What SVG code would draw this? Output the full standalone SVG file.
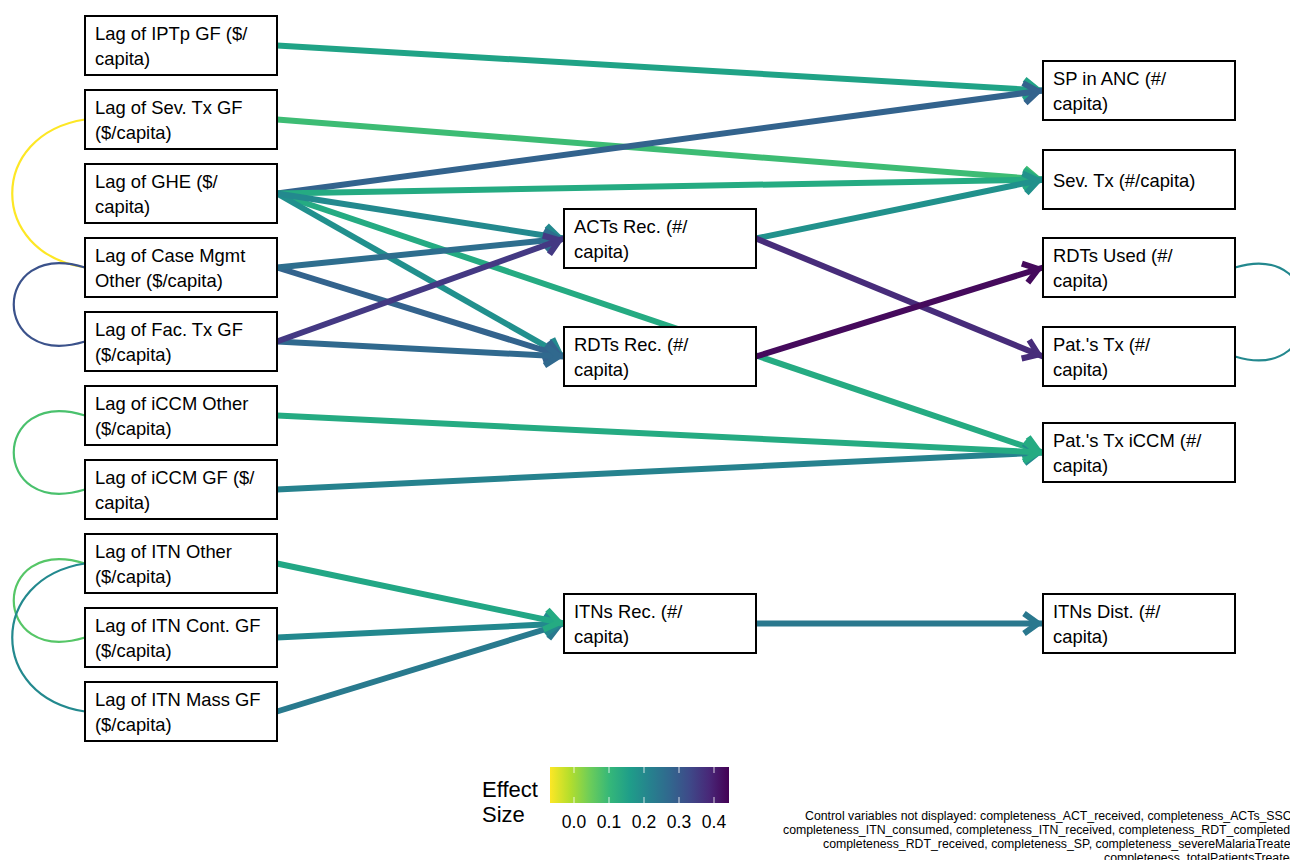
<svg xmlns="http://www.w3.org/2000/svg" width="1290" height="860" viewBox="0 0 1290 860">
<style>
.node rect{fill:#fff;stroke:#000;stroke-width:2}
.node text{font-family:"Liberation Sans",Arial,sans-serif;font-size:18.4px;fill:#000}
.e{fill:none;stroke-width:6;stroke-linecap:butt}
.cov{fill:none;stroke-width:2.2}
.mk{fill:none;stroke-width:6;stroke-linejoin:miter;stroke-miterlimit:10}
.lg{font-family:"Liberation Sans",Arial,sans-serif;fill:#000}
.cap{font-family:"Liberation Sans",Arial,sans-serif;font-size:12.3px;fill:#000}
</style>
<defs>
<linearGradient id="vir" x1="0" y1="0" x2="1" y2="0">
<stop offset="0" stop-color="#FDE725"/>
<stop offset="0.111" stop-color="#B4DE2C"/>
<stop offset="0.222" stop-color="#6DCD59"/>
<stop offset="0.333" stop-color="#35B779"/>
<stop offset="0.444" stop-color="#1F9E89"/>
<stop offset="0.556" stop-color="#26828E"/>
<stop offset="0.667" stop-color="#31688E"/>
<stop offset="0.778" stop-color="#3E4A89"/>
<stop offset="0.889" stop-color="#482878"/>
<stop offset="1" stop-color="#440154"/>
</linearGradient>
<marker id="m1" markerUnits="userSpaceOnUse" viewBox="-30 -20 40 40" markerWidth="40" markerHeight="40" refX="0" refY="0" orient="auto" overflow="visible"><path class="mk" stroke="#20a386" d="M-19,-10 L-5,0 L-19,10"/></marker>
<marker id="m2" markerUnits="userSpaceOnUse" viewBox="-30 -20 40 40" markerWidth="40" markerHeight="40" refX="0" refY="0" orient="auto" overflow="visible"><path class="mk" stroke="#3dbc74" d="M-19,-10 L-5,0 L-19,10"/></marker>
<marker id="m3" markerUnits="userSpaceOnUse" viewBox="-30 -20 40 40" markerWidth="40" markerHeight="40" refX="0" refY="0" orient="auto" overflow="visible"><path class="mk" stroke="#33638d" d="M-19,-10 L-5,0 L-19,10"/></marker>
<marker id="m4" markerUnits="userSpaceOnUse" viewBox="-30 -20 40 40" markerWidth="40" markerHeight="40" refX="0" refY="0" orient="auto" overflow="visible"><path class="mk" stroke="#25ab82" d="M-19,-10 L-5,0 L-19,10"/></marker>
<marker id="m5" markerUnits="userSpaceOnUse" viewBox="-30 -20 40 40" markerWidth="40" markerHeight="40" refX="0" refY="0" orient="auto" overflow="visible"><path class="mk" stroke="#23898e" d="M-19,-10 L-5,0 L-19,10"/></marker>
<marker id="m6" markerUnits="userSpaceOnUse" viewBox="-30 -20 40 40" markerWidth="40" markerHeight="40" refX="0" refY="0" orient="auto" overflow="visible"><path class="mk" stroke="#2e6e8e" d="M-19,-10 L-5,0 L-19,10"/></marker>
<marker id="m7" markerUnits="userSpaceOnUse" viewBox="-30 -20 40 40" markerWidth="40" markerHeight="40" refX="0" refY="0" orient="auto" overflow="visible"><path class="mk" stroke="#443983" d="M-19,-10 L-5,0 L-19,10"/></marker>
<marker id="m8" markerUnits="userSpaceOnUse" viewBox="-30 -20 40 40" markerWidth="40" markerHeight="40" refX="0" refY="0" orient="auto" overflow="visible"><path class="mk" stroke="#21918c" d="M-19,-10 L-5,0 L-19,10"/></marker>
<marker id="m9" markerUnits="userSpaceOnUse" viewBox="-30 -20 40 40" markerWidth="40" markerHeight="40" refX="0" refY="0" orient="auto" overflow="visible"><path class="mk" stroke="#472c7a" d="M-19,-10 L-5,0 L-19,10"/></marker>
<marker id="m10" markerUnits="userSpaceOnUse" viewBox="-30 -20 40 40" markerWidth="40" markerHeight="40" refX="0" refY="0" orient="auto" overflow="visible"><path class="mk" stroke="#450a5c" d="M-19,-10 L-5,0 L-19,10"/></marker>
<marker id="m11" markerUnits="userSpaceOnUse" viewBox="-30 -20 40 40" markerWidth="40" markerHeight="40" refX="0" refY="0" orient="auto" overflow="visible"><path class="mk" stroke="#2a788e" d="M-19,-10 L-5,0 L-19,10"/></marker>
<marker id="m12" markerUnits="userSpaceOnUse" viewBox="-30 -20 40 40" markerWidth="40" markerHeight="40" refX="0" refY="0" orient="auto" overflow="visible"><path class="mk" stroke="#30698e" d="M-19,-10 L-5,0 L-19,10"/></marker>
</defs>
<rect x="0" y="0" width="1290" height="860" fill="#fff"/>
<g id="connectors">
<path class="cov" stroke="#fde725" d="M85,119.5 C-12,134.5 -12,252.5 85,267.5"/>
<path class="cov" stroke="#3b528b" d="M85,267.5 C-10,238.5 -10,370.5 85,341.5"/>
<path class="cov" stroke="#4ac16d" d="M85,415.5 C-10,386.5 -10,518.5 85,489.5"/>
<path class="cov" stroke="#56c667" d="M85,563.5 C-10,534.5 -10,666.5 85,637.5"/>
<path class="cov" stroke="#23898e" d="M85,563.5 C-12,578.5 -12,696.5 85,711.5"/>
<path class="cov" stroke="#23888e" d="M1235,267.5 C1330,238.5 1330,385.5 1235,356.5"/>
<line class="e" stroke="#20a386" x1="277" y1="45.5" x2="1043" y2="90.5" marker-end="url(#m1)"/>
<line class="e" stroke="#3dbc74" x1="277" y1="119.5" x2="1043" y2="179.5" marker-end="url(#m2)"/>
<line class="e" stroke="#25ab82" x1="277" y1="193.5" x2="1043" y2="452.5" marker-end="url(#m4)"/>
<line class="e" stroke="#33638d" x1="277" y1="193.5" x2="1043" y2="90.5" marker-end="url(#m3)"/>
<line class="e" stroke="#25ab82" x1="277" y1="193.5" x2="1043" y2="179.5" marker-end="url(#m4)"/>
<line class="e" stroke="#21908d" x1="277" y1="193.5" x2="564" y2="356.5" marker-end="url(#m5)"/>
<line class="e" stroke="#23898e" x1="277" y1="193.5" x2="564" y2="238.5" marker-end="url(#m5)"/>
<line class="e" stroke="#33638d" x1="277" y1="267.5" x2="564" y2="356.5" marker-end="url(#m3)"/>
<line class="e" stroke="#2e6e8e" x1="277" y1="267.5" x2="564" y2="238.5" marker-end="url(#m6)"/>
<line class="e" stroke="#30698e" x1="277" y1="341.5" x2="564" y2="356.5" marker-end="url(#m12)"/>
<line class="e" stroke="#443983" x1="277" y1="341.5" x2="564" y2="238.5" marker-end="url(#m7)"/>
<line class="e" stroke="#21918c" x1="756" y1="238.5" x2="1043" y2="179.5" marker-end="url(#m8)"/>
<line class="e" stroke="#472c7a" x1="756" y1="238.5" x2="1043" y2="356.5" marker-end="url(#m9)"/>
<line class="e" stroke="#450a5c" x1="756" y1="356.5" x2="1043" y2="267.5" marker-end="url(#m10)"/>
<line class="e" stroke="#26828e" x1="277" y1="489.5" x2="1043" y2="452.5" marker-end="url(#m5)"/>
<line class="e" stroke="#25ab82" x1="277" y1="415.5" x2="1043" y2="452.5" marker-end="url(#m4)"/>
<line class="e" stroke="#297a8e" x1="277" y1="711.5" x2="564" y2="623.5" marker-end="url(#m11)"/>
<line class="e" stroke="#23888e" x1="277" y1="637.5" x2="564" y2="623.5" marker-end="url(#m5)"/>
<line class="e" stroke="#22a785" x1="277" y1="563.5" x2="564" y2="623.5" marker-end="url(#m4)"/>
<line class="e" stroke="#2a788e" x1="756" y1="623.5" x2="1043" y2="623.5" marker-end="url(#m11)"/>
</g>
<g id="n_iptp" class="node"><rect x="85" y="16" width="192" height="59"/><text x="95" y="40">Lag of IPTp GF ($/</text><text x="95" y="65">capita)</text></g>
<g id="n_sevgf" class="node"><rect x="85" y="90" width="192" height="59"/><text x="95" y="114">Lag of Sev. Tx GF</text><text x="95" y="139">($/capita)</text></g>
<g id="n_ghe" class="node"><rect x="85" y="164" width="192" height="59"/><text x="95" y="188">Lag of GHE ($/</text><text x="95" y="213">capita)</text></g>
<g id="n_cmo" class="node"><rect x="85" y="238" width="192" height="59"/><text x="95" y="262">Lag of Case Mgmt</text><text x="95" y="287">Other ($/capita)</text></g>
<g id="n_fac" class="node"><rect x="85" y="312" width="192" height="59"/><text x="95" y="336">Lag of Fac. Tx GF</text><text x="95" y="361">($/capita)</text></g>
<g id="n_iccmo" class="node"><rect x="85" y="386" width="192" height="59"/><text x="95" y="410">Lag of iCCM Other</text><text x="95" y="435">($/capita)</text></g>
<g id="n_iccmgf" class="node"><rect x="85" y="460" width="192" height="59"/><text x="95" y="484">Lag of iCCM GF ($/</text><text x="95" y="509">capita)</text></g>
<g id="n_itno" class="node"><rect x="85" y="534" width="192" height="59"/><text x="95" y="558">Lag of ITN Other</text><text x="95" y="583">($/capita)</text></g>
<g id="n_itnc" class="node"><rect x="85" y="608" width="192" height="59"/><text x="95" y="632">Lag of ITN Cont. GF</text><text x="95" y="657">($/capita)</text></g>
<g id="n_itnm" class="node"><rect x="85" y="682" width="192" height="59"/><text x="95" y="706">Lag of ITN Mass GF</text><text x="95" y="731">($/capita)</text></g>
<g id="n_acts" class="node"><rect x="564" y="209" width="192" height="59"/><text x="574" y="233">ACTs Rec. (#/</text><text x="574" y="258">capita)</text></g>
<g id="n_rdts" class="node"><rect x="564" y="327" width="192" height="59"/><text x="574" y="351">RDTs Rec. (#/</text><text x="574" y="376">capita)</text></g>
<g id="n_itnsrec" class="node"><rect x="564" y="594" width="192" height="59"/><text x="574" y="618">ITNs Rec. (#/</text><text x="574" y="643">capita)</text></g>
<g id="n_sp" class="node"><rect x="1043" y="61" width="192" height="59"/><text x="1053" y="85">SP in ANC (#/</text><text x="1053" y="110">capita)</text></g>
<g id="n_sev" class="node"><rect x="1043" y="150" width="192" height="59"/><text x="1053" y="186.5">Sev. Tx (#/capita)</text></g>
<g id="n_rdtu" class="node"><rect x="1043" y="238" width="192" height="59"/><text x="1053" y="262">RDTs Used (#/</text><text x="1053" y="287">capita)</text></g>
<g id="n_pat" class="node"><rect x="1043" y="327" width="192" height="59"/><text x="1053" y="351">Pat.'s Tx (#/</text><text x="1053" y="376">capita)</text></g>
<g id="n_paticcm" class="node"><rect x="1043" y="423" width="192" height="59"/><text x="1053" y="447">Pat.'s Tx iCCM (#/</text><text x="1053" y="472">capita)</text></g>
<g id="n_itnsd" class="node"><rect x="1043" y="594" width="192" height="59"/><text x="1053" y="618">ITNs Dist. (#/</text><text x="1053" y="643">capita)</text></g>
<g id="legend">
<text class="lg" x="482" y="797" font-size="22">Effect</text>
<text class="lg" x="482" y="822" font-size="22">Size</text>
<rect x="550" y="767" width="179" height="36" fill="url(#vir)"/>
<g stroke="#fff" stroke-width="1" opacity="0.8">
<line x1="574" y1="767" x2="574" y2="773"/><line x1="574" y1="797" x2="574" y2="803"/>
<line x1="609" y1="767" x2="609" y2="773"/><line x1="609" y1="797" x2="609" y2="803"/>
<line x1="644" y1="767" x2="644" y2="773"/><line x1="644" y1="797" x2="644" y2="803"/>
<line x1="679" y1="767" x2="679" y2="773"/><line x1="679" y1="797" x2="679" y2="803"/>
<line x1="714" y1="767" x2="714" y2="773"/><line x1="714" y1="797" x2="714" y2="803"/>
</g>
<g class="lg" font-size="17.5" text-anchor="middle">
<text x="574" y="828">0.0</text><text x="609" y="828">0.1</text><text x="644" y="828">0.2</text><text x="679" y="828">0.3</text><text x="714" y="828">0.4</text>
</g>
</g>
<g id="caption" class="cap">
<text x="805" y="820">Control variables not displayed: completeness_ACT_received, completeness_ACTs_SSC</text>
<text x="783" y="834">completeness_ITN_consumed, completeness_ITN_received, completeness_RDT_completed</text>
<text x="823" y="848">completeness_RDT_received, completeness_SP, completeness_severeMalariaTreated</text>
<text x="1104" y="862">completeness_totalPatientsTreated</text>
</g>
</svg>
